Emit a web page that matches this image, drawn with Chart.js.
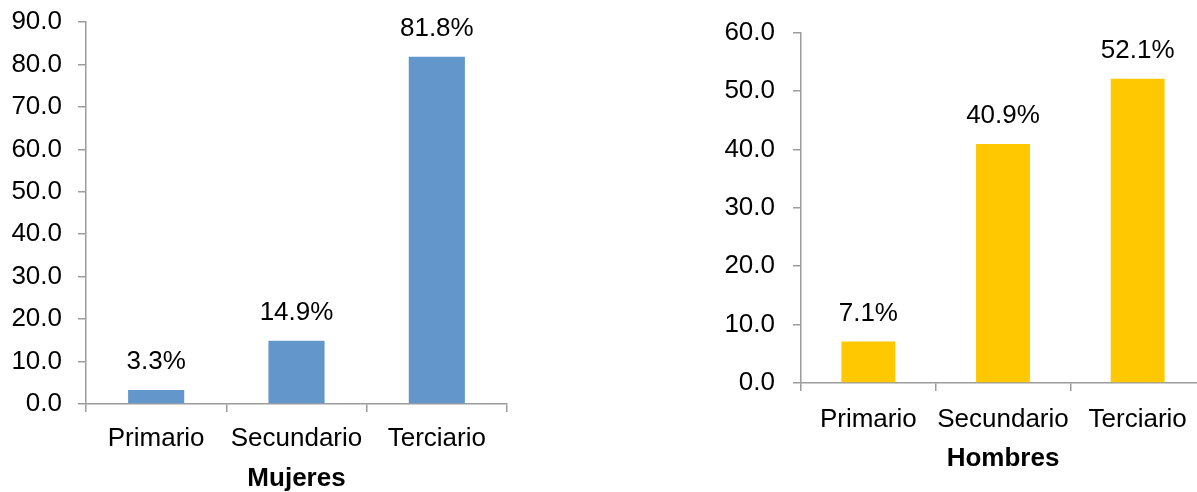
<!DOCTYPE html>
<html>
<head>
<meta charset="utf-8">
<script src="https://cdn.jsdelivr.net/npm/chart.js@4.4.1/dist/chart.umd.min.js"></script>
<style>
  html, body { margin: 0; padding: 0; background: #fff; overflow: hidden; width: 1197px; height: 492px; }
  canvas { position: absolute; top: 0; }
  #c1 { left: 0px; }
  #c2 { left: 700px; }
</style>
</head>
<body>
<canvas id="c1" width="520" height="492"></canvas>
<canvas id="c2" width="520" height="492"></canvas>
<script>
const categories = ['Primario', 'Secundario', 'Terciario'];
const mujeresValues = [3.3, 14.9, 81.8];
const hombresValues = [7.1, 40.9, 52.1];
const mujeresTitle = 'Mujeres';
const hombresTitle = 'Hombres';
const mujeresMax = 90;
const hombresMax = 60;
const tickStep = 10;

Chart.defaults.font.family = "'Liberation Sans', Arial, sans-serif";
Chart.defaults.color = '#000';

const AXIS = '#9c9c9c';
const FONT = 26;

const barLabels = {
  id: 'barLabels',
  afterDatasetsDraw(chart) {
    const ctx = chart.ctx;
    const ds = chart.data.datasets[0];
    const meta = chart.getDatasetMeta(0);
    ctx.save();
    ctx.font = FONT + "px 'Liberation Sans', Arial, sans-serif";
    ctx.fillStyle = '#000';
    ctx.textAlign = 'center';
    ctx.textBaseline = 'alphabetic';
    meta.data.forEach((bar, i) => {
      ctx.fillText(ds.data[i].toFixed(1) + '%', bar.x, bar.y - 21);
    });
    ctx.restore();
  }
};

function makeChart(id, values, color, title, max, pad, yWidth, xHeight, yPad, xPad) {
  return new Chart(document.getElementById(id), {
    type: 'bar',
    data: {
      labels: categories,
      datasets: [{
        data: values,
        backgroundColor: color,
        borderWidth: 0,
        categoryPercentage: 1,
        barPercentage: 0.4
      }]
    },
    options: {
      responsive: false,
      animation: false,
      devicePixelRatio: 1,
      layout: { padding: pad },
      plugins: { legend: { display: false }, tooltip: { enabled: false } },
      scales: {
        x: {
          grid: { display: true, drawOnChartArea: false, drawTicks: true, tickLength: 8, color: AXIS, lineWidth: 1.5, offset: true },
          border: { display: true, color: AXIS, width: 1.5 },
          ticks: { font: { size: FONT }, padding: xPad, color: '#000', maxRotation: 0, autoSkip: false },
          title: { display: true, text: title, font: { size: FONT, weight: 'bold', lineHeight: 1 }, padding: { top: 0, bottom: 0 }, color: '#000' },
          afterFit(scale) { scale.height = xHeight; scale.paddingLeft = 0; scale.paddingRight = 0; }
        },
        y: {
          min: 0, max: max,
          grid: { display: true, drawOnChartArea: false, drawTicks: true, tickLength: 8, color: AXIS, lineWidth: 1.5 },
          border: { display: true, color: AXIS, width: 1.5 },
          ticks: { stepSize: tickStep, font: { size: FONT }, padding: yPad, color: '#000', callback: v => Number(v).toFixed(1) },
          afterFit(scale) { scale.width = yWidth; scale.paddingTop = 0; scale.paddingBottom = 0; }
        }
      }
    },
    plugins: [barLabels]
  });
}

makeChart('c1', mujeresValues, '#6397CB', mujeresTitle, mujeresMax, { left: 0, top: 22, right: 13, bottom: 0 }, 86, 88, 16, 11);
makeChart('c2', hombresValues, '#FFC800', hombresTitle, hombresMax, { left: 0, top: 32.5, right: 15, bottom: 20 }, 101, 89, 18, 13);
</script>
</body>
</html>
